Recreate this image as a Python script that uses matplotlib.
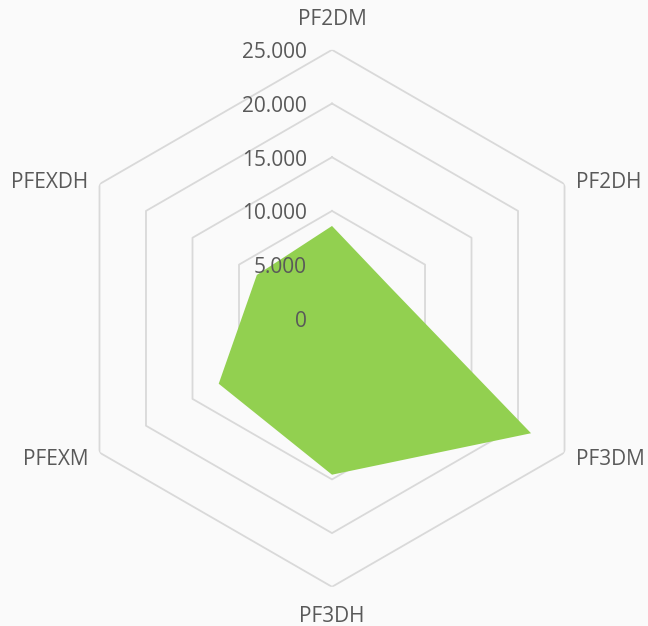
import numpy as np
import matplotlib
matplotlib.use("Agg")
import matplotlib.pyplot as plt

# categories clockwise from the top
categories = ['PF2DM', 'PF2DH', 'PF3DM', 'PF3DH', 'PFEXM', 'PFEXDH']
values = [8600, 6100, 21400, 14560, 12180, 8080]
levels = [5000, 10000, 15000, 20000, 25000]

plt.rcParams['font.family'] = ['Open Sans', 'DejaVu Sans']
text_col = '#595959'
bg = '#FAFAFA'

fig = plt.figure(figsize=(6.48, 6.26), dpi=100, facecolor=bg)
ax = fig.add_axes([0.098, 0.0626, 0.8287, 0.8578], projection='polar')
ax.set_facecolor(bg)
ax.set_theta_offset(np.pi / 2)
ax.set_theta_direction(-1)
ax.set_ylim(0, 25000)

angles = np.linspace(0, 2 * np.pi, len(categories), endpoint=False)
ang_closed = np.append(angles, angles[0])

# hexagonal grid
for lv in levels:
    ax.plot(ang_closed, [lv] * len(ang_closed), color='#D9D9D9', lw=1.3, zorder=1)

vals_closed = np.append(values, values[0])
ax.fill(ang_closed, vals_closed, color='#92D050', lw=0, zorder=2)

ax.grid(False)
ax.spines['polar'].set_visible(False)
ax.set_xticks([])
ax.set_yticks([])

# radial labels, thousands written with a dot
for lv in [0] + levels:
    lab = f'{lv:,}'.replace(',', '.')
    ax.annotate(lab, (0, lv), xytext=(-25, -3), textcoords='offset pixels',
                ha='right', va='center', fontsize=15, color=text_col, zorder=3)

# category labels around the outside
offsets = [(0, 30, 'center'), (11, 2, 'left'), (11, -7, 'left'),
           (0, -30, 'center'), (-11, -7, 'right'), (-11, 2, 'right')]
for a, name, (dx, dy, ha) in zip(angles, categories, offsets):
    ax.annotate(name, (a, 25000), xytext=(dx, dy), textcoords='offset pixels',
                ha=ha, va='center', fontsize=15, color=text_col,
                annotation_clip=False)

fig.savefig('out.png', dpi=100, facecolor=bg)
